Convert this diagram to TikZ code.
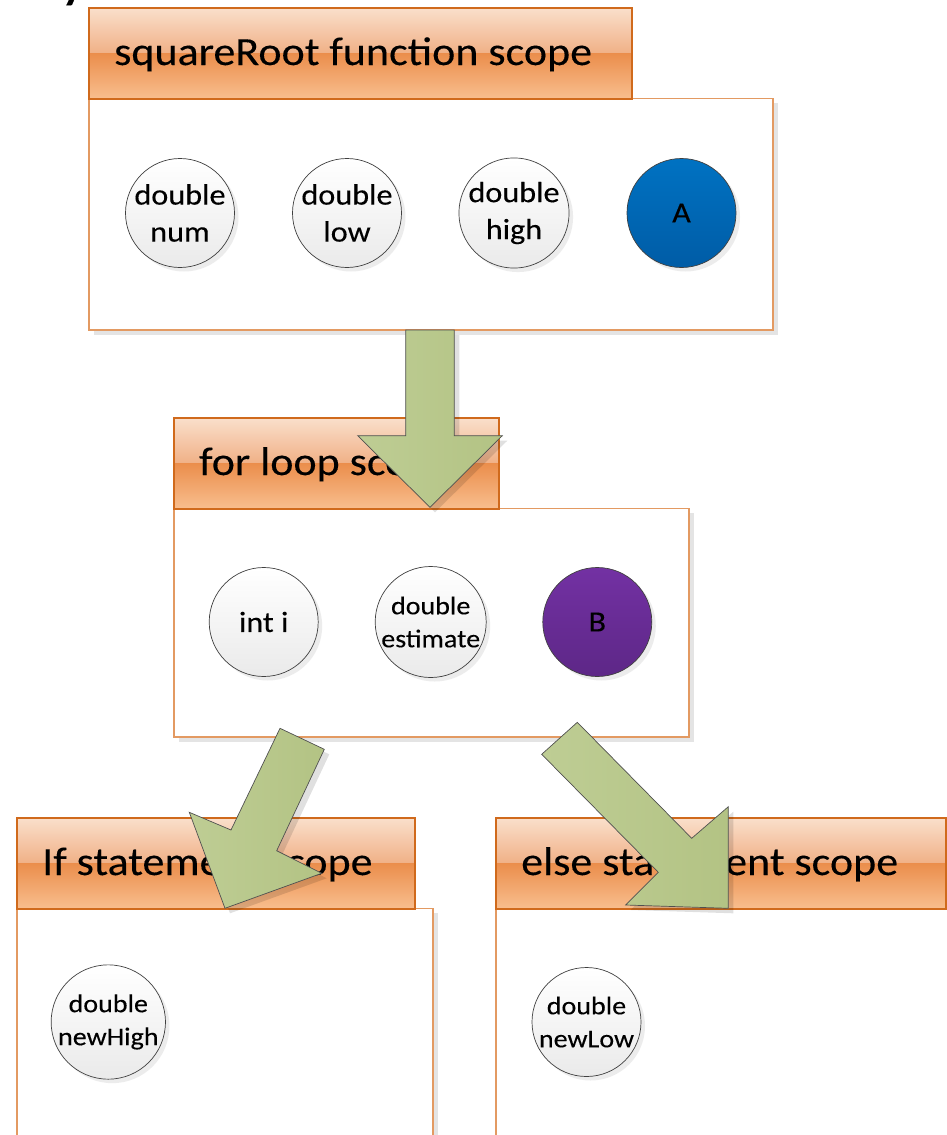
\documentclass[tikz,border=0pt]{standalone}
\usepackage{fontspec}
\setmainfont[FakeStretch=1.1,FakeBold=0.2]{Carlito}
\usetikzlibrary{shadows}
\definecolor{hA}{HTML}{FADFCB}
\definecolor{hB}{HTML}{F0B086}
\definecolor{hC}{HTML}{EB8E4C}
\definecolor{hD}{HTML}{F8BE8E}
\definecolor{hBorder}{HTML}{D06A1C}
\definecolor{bBorder}{HTML}{E39A62}
\definecolor{shadowgray}{HTML}{E4E4E4}
\definecolor{cfill}{HTML}{EAEAEA}
\definecolor{cline}{HTML}{404040}
\definecolor{aTop}{HTML}{0072C2}
\definecolor{aBot}{HTML}{005CA6}
\definecolor{bTop}{HTML}{7331A3}
\definecolor{bBot}{HTML}{5D2787}
\definecolor{arrL}{HTML}{BECD94}
\definecolor{arrR}{HTML}{B3C384}
\definecolor{arrowline}{HTML}{505050}
\newcommand\drawscope[7]{%
  \fill[shadowgray] (#1+5,#2+95) rectangle (#4+5,#5+5);
  \draw[bodyline] (#1,#2+90.5) rectangle (#4,#5);
  \fill[top color=hA,bottom color=hB] (#1,#2) rectangle (#3,#2+45.5);
  \fill[top color=hC,bottom color=hD] (#1,#2+45.5) rectangle (#3,#2+90.5);
  \draw[hBorder,line width=2pt] (#1,#2) rectangle (#3,#2+90.5);
  \node[hdrtext] (#6) at (#1+25,#2+57) {#7};
}
\newcommand\blockarrow[1]{%
  \fill[arrowshadow,shift={(5,5)}] #1 -- cycle;
  \draw[arrowshape] #1 -- cycle;
}
\begin{document}
\begin{tikzpicture}[x=1pt,y=-1pt,
  bodyline/.style={draw=bBorder,line width=1.2pt,fill=white},
  hdrtext/.style={anchor=base west,inner sep=0pt,font=\fontsize{40}{46}\selectfont},
  var/.style={circle,draw=cline,line width=0.7pt,top color=white,bottom color=cfill,
    minimum size=109pt,inner sep=0pt,align=center,
    drop shadow={shadow xshift=4pt,shadow yshift=-4pt,fill=black!14}},
  bigvar/.style={var,font=\fontsize{29.3}{37}\selectfont},
  smallvar/.style={var,font=\fontsize{25.5}{33}\selectfont},
  arrowshape/.style={left color=arrL,right color=arrR,draw=arrowline,line width=0.7pt,line join=miter},
  arrowshadow/.style={fill=black,opacity=0.12}]
\useasboundingbox (0,0) rectangle (947,1135);
\begin{scope}
\clip (0,0) rectangle (947,1135);
\node[anchor=base west,inner sep=0pt,font=\bfseries\fontsize{40}{48}\selectfont] (frag) at (62,-1) {y};
% scopes
\drawscope{89}{8}{632}{773}{330}{hTop}{squareRoot function scope}
\drawscope{174}{418}{499}{689}{737}{hMid}{for loop scope}
\drawscope{17}{818}{415}{433}{1160}{hIf}{If statement scope}
\drawscope{496}{818}{946}{975}{1160}{hElse}{else statement scope}
% variables
\node[bigvar] (num) at (180,213) {double\\num};
\node[bigvar] (low) at (347,213) {double\\low};
\node[bigvar] (high) at (514,213) {double\\high};
\node[bigvar,top color=aTop,bottom color=aBot] (A) at (681.5,213) {A};
\node[bigvar] (inti) at (263.7,622) {int i};
\node[smallvar] (est) at (430.7,622) {double\\estimate};
\node[bigvar,top color=bTop,bottom color=bBot] (B) at (597.3,622) {B};
\node[smallvar] (newhigh) at (108.3,1022) {double\\newHigh};
\node[smallvar] (newlow) at (586.5,1022) {double\\newLow};
% block arrows
\blockarrow{(405.7,330) -- (454.3,330) -- (454.3,435.7) -- (502.3,435.7) -- (430,507.3) -- (357.7,435.7) -- (405.7,435.7)}
\blockarrow{(280,728.3) -- (324.3,749.3) -- (276.7,850.7) -- (321.7,873.3) -- (225,908.3) -- (189.3,812.3) -- (231,830)}
\blockarrow{(577.3,722.3) -- (541.7,754.3) -- (658.3,872.3) -- (625.7,905) -- (728.3,908.3) -- (728.3,806.7) -- (691.7,838.3)}
\end{scope}
\end{tikzpicture}
\end{document}
